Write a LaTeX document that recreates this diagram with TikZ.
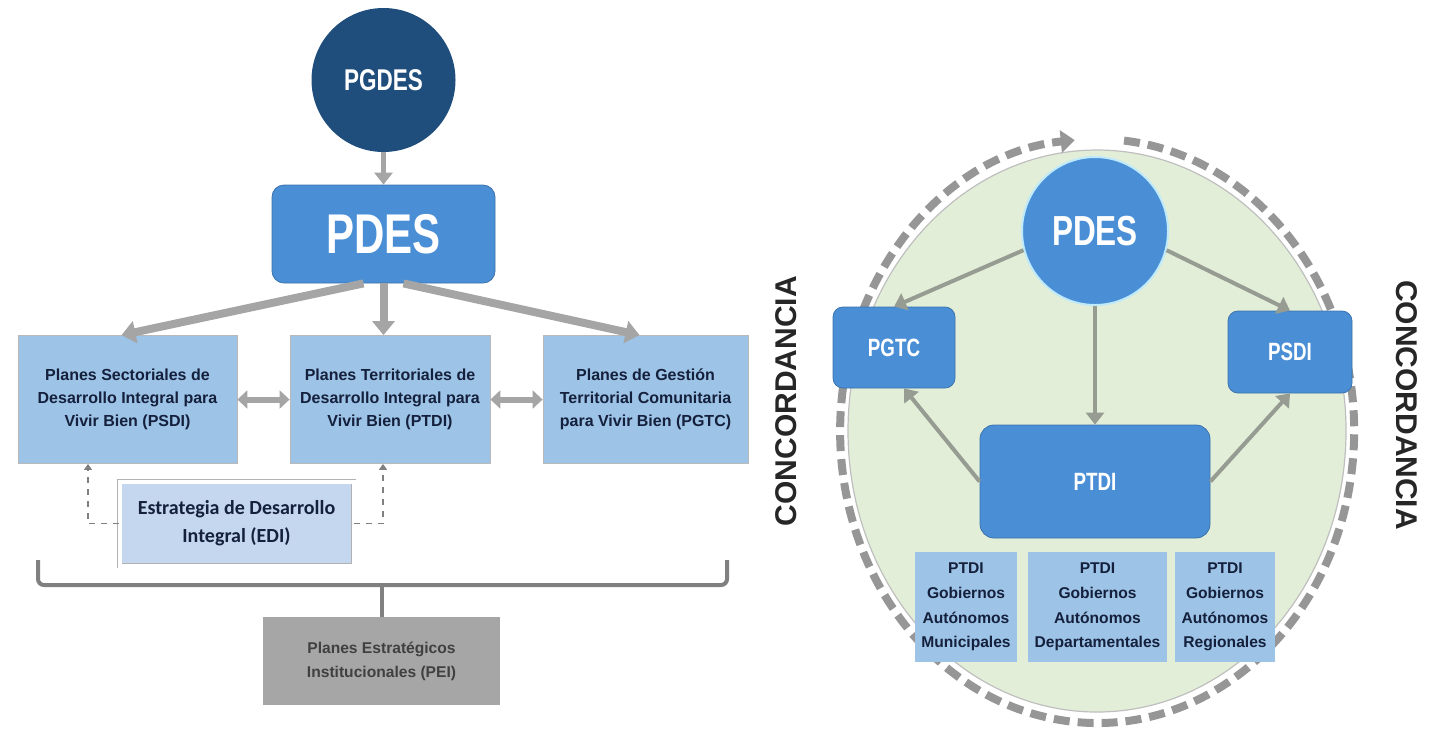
\documentclass[tikz,border=0pt]{standalone}
\usepackage{fontspec}
\setmainfont{Liberation Sans}
\newfontfamily\narrowfont[FakeStretch=0.75]{Liberation Sans}
\newfontfamily\calibrifont{Carlito}
\usepackage{tikz}
\usetikzlibrary{shapes,arrows,positioning,calc,arrows.meta}

\definecolor{navyblue}{RGB}{31,78,125}
\definecolor{planblue}{RGB}{74,143,214}
\definecolor{lightplan}{RGB}{157,195,230}
\definecolor{textnavy}{RGB}{20,32,60}
\definecolor{arrowgray}{RGB}{165,165,165}
\definecolor{olivegray}{RGB}{150,156,146}
\definecolor{ringgray}{RGB}{150,150,150}
\definecolor{leafgreen}{RGB}{226,238,216}
\definecolor{peigray}{RGB}{166,166,166}
\definecolor{ediblue}{RGB}{196,215,238}

\tikzset{
  planbox/.style={rectangle, draw=gray!55, fill=lightplan, text=textnavy, align=center,
    font=\bfseries\fontsize{8}{11.5}\selectfont, inner sep=2pt, minimum height=64pt},
  govbox/.style={rectangle, fill=lightplan, text=textnavy, align=center,
    font=\bfseries\fontsize{7.8}{12.3}\selectfont, inner sep=1pt, minimum height=55pt},
  bluebox/.style={rectangle, rounded corners=5pt, fill=planblue, draw=planblue!80!black, text=white,
    font=\narrowfont\bfseries\fontsize{12.5}{14}\selectfont},
  treearrow/.style={draw=arrowgray, line width=4pt, -{Triangle[length=7pt,width=11pt]}},
  sidearrow/.style={draw=arrowgray, line width=3pt,
    {Triangle[length=5pt,width=9pt]}-{Triangle[length=5pt,width=9pt]}},
  circarrow/.style={draw=olivegray, line width=2pt, -{Triangle[length=6pt,width=9pt]}},
  edilink/.style={draw=gray, line width=0.8pt, dashed, -{Triangle[length=3pt,width=4pt]}},
  bracket/.style={draw=gray, line width=2pt, rounded corners=3pt},
  ring/.style={draw=ringgray, line width=4pt, dash pattern=on 8pt off 4pt,
    -{Triangle[length=7pt,width=11pt]}},
  concord/.style={font=\bfseries\fontsize{15}{18}\selectfont, text=black!85}
}

\begin{document}
\begin{tikzpicture}[x=0.5pt,y=-0.5pt]
  \useasboundingbox (0,0) rectangle (1438,736);

  % left tree
  \node[circle, fill=navyblue, minimum size=72pt, text=white,
        font=\narrowfont\bfseries\fontsize{15}{18}\selectfont] (pgdes) at (383.5,80) {PGDES};
  \node[bluebox, rounded corners=6pt, minimum width=111.5pt, minimum height=49pt,
        font=\narrowfont\bfseries\fontsize{28}{30}\selectfont] (pdes) at (383.5,234) {PDES};

  \node[planbox, minimum width=109.5pt] (psdi) at (127.5,399.5)
    {Planes Sectoriales de\\Desarrollo Integral para\\Vivir Bien (PSDI)};
  \node[planbox, minimum width=100pt] (ptdi) at (390,399.5)
    {Planes Territoriales de\\Desarrollo Integral para\\Vivir Bien (PTDI)};
  \node[planbox, minimum width=102.5pt] (pgtc) at (645.5,399.5)
    {Planes de Gestión\\Territorial Comunitaria\\para Vivir Bien (PGTC)};

  \node[rectangle, fill=ediblue, draw=gray!60, double=white, double distance=2pt,
        minimum width=117pt, minimum height=42pt, align=center, text=textnavy,
        font=\calibrifont\bfseries\fontsize{10}{14}\selectfont] (edi) at (236.5,523.5)
    {Estrategia de Desarrollo\\Integral (EDI)};

  \node[rectangle, fill=peigray, minimum width=118.5pt, minimum height=44pt, align=center,
        text=black!75, font=\bfseries\fontsize{7.8}{12}\selectfont] (pei) at (381.5,661)
    {Planes Estratégicos\\Institucionales (PEI)};

  \draw[draw=arrowgray, line width=2.5pt, -{Triangle[length=6pt,width=9pt]}] (pgdes) -- (pdes);
  \draw[treearrow] ([xshift=-10pt]pdes.south) -- ([xshift=-3pt]psdi.north);
  \draw[treearrow] (pdes.south) -- (pdes.south |- ptdi.north);
  \draw[treearrow] ([xshift=10pt]pdes.south) -- ([xshift=-3pt]pgtc.north);
  \draw[sidearrow] (psdi) -- (ptdi);
  \draw[sidearrow] (ptdi) -- (pgtc);

  \draw[edilink] (edi.west) -| ([xshift=-19.75pt]psdi.south);
  \draw[edilink] (edi.east) -| ([xshift=-3.5pt]ptdi.south);

  \coordinate (brL) at (38,560);
  \coordinate (brC) at (381.5,585);
  \coordinate (brR) at (727,560);
  \draw[bracket] (brL) |- (brC) -| (brR);
  \draw[bracket] (brC) -- (pei.north);

  % right circle
  \fill[leafgreen, draw=gray!50, line width=0.6pt] (1097,431) ellipse [x radius=249, y radius=281];
  \draw[ring] (1124,140.6) arc[start angle=-84, end angle=265, x radius=257, y radius=292];

  \node[ellipse, fill=planblue, draw=cyan!25, line width=1pt, minimum width=73pt, minimum height=74pt,
        text=white, font=\narrowfont\bfseries\fontsize{21}{24}\selectfont] (pdesr) at (1095,231) {PDES};
  \node[bluebox, minimum width=61pt, minimum height=40.5pt] (pgtcr) at (894,347.5) {PGTC};
  \node[bluebox, minimum width=62pt, minimum height=41pt] (psdir) at (1290,352) {PSDI};
  \node[bluebox, rounded corners=7pt, minimum width=115pt, minimum height=56.5pt] (ptdir) at (1095,481.5) {PTDI};

  \node[govbox, minimum width=51pt] (muni) at (966,607) {PTDI\\Gobiernos\\Autónomos\\Municipales};
  \node[govbox, minimum width=69.5pt] (depto) at (1097.5,607) {PTDI\\Gobiernos\\Autónomos\\Departamentales};
  \node[govbox, minimum width=50pt] (regio) at (1225,607) {PTDI\\Gobiernos\\Autónomos\\Regionales};

  \draw[circarrow] (pdesr.195) -- (pgtcr.north);
  \draw[circarrow] (pdesr.-15) -- (psdir.north);
  \draw[circarrow] (pdesr.south) -- (ptdir.north);
  \draw[circarrow] (ptdir.west) -- ([xshift=5pt]pgtcr.south);
  \draw[circarrow] (ptdir.east) -- (psdir.south);

  \node[concord, rotate=90] (concL) at (786,401) {CONCORDANCIA};
  \node[concord, rotate=-90] (concR) at (1407,405) {CONCORDANCIA};
\end{tikzpicture}
\end{document}
